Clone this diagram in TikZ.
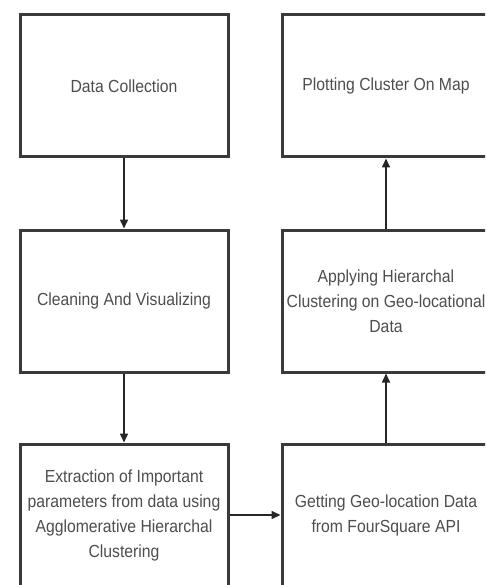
\documentclass[tikz,border=0pt]{standalone}
\usepackage{fontspec}
\setmainfont[FakeStretch=0.9]{Liberation Sans}
\usetikzlibrary{arrows.meta}
\definecolor{boxline}{HTML}{3A3A3A}
\definecolor{txt}{HTML}{4E4E4E}
\begin{document}
\begin{tikzpicture}[x=1pt,y=-1pt,
  stepbox/.style={draw=boxline, line width=3pt, fill=white, minimum width=208pt, minimum height=142pt,
    inner sep=0pt, align=center, text=txt, font=\fontsize{17.5}{25}\selectfont},
  flow/.style={draw=black!85, line width=1.6pt, -{Triangle[length=9pt,width=8pt]}}]
\useasboundingbox (0,0) rectangle (485,585);
\clip (0,0) rectangle (485,585);
\fill[white] (0,0) rectangle (485,585);
\node[stepbox] (a) at (124,86) {Data Collection};
\node[stepbox] (b) at (124,301) {Cleaning And Visualizing};
\node[stepbox] (c) at (124,515) {Extraction of Important\\parameters from data using\\Agglomerative Hierarchal\\Clustering};
\node[stepbox] (d) at (386,515) {Getting Geo-location Data\\from FourSquare API};
\node[stepbox] (e) at (386,301) {Applying Hierarchal\\Clustering on Geo-locational\\Data};
\node[stepbox] (f) at (386,86) {Plotting Cluster On Map};
\draw[flow] (a) -- (b);
\draw[flow] (b) -- (c);
\draw[flow] (c) -- (d);
\draw[flow] (d) -- (e);
\draw[flow] (e) -- (f);
\end{tikzpicture}
\end{document}
